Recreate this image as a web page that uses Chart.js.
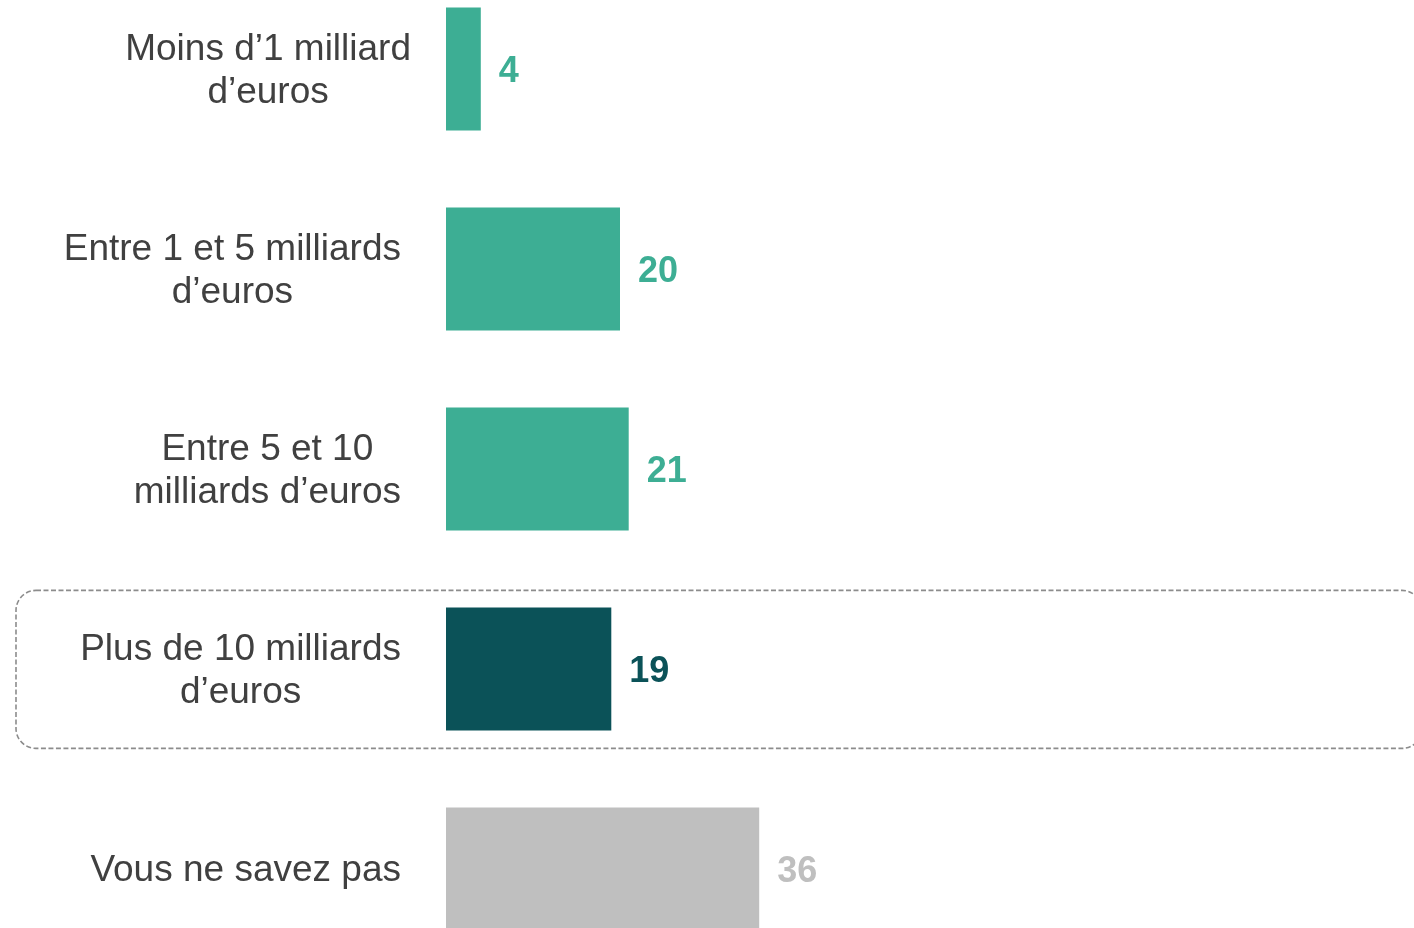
<!DOCTYPE html>
<html>
<head>
<meta charset="utf-8">
<script src="https://cdn.jsdelivr.net/npm/chart.js@4.4.1/dist/chart.umd.min.js"></script>
<style>
  html, body { margin: 0; padding: 0; background: #ffffff; overflow: hidden; }
  #wrap { position: absolute; left: 0; top: -31px; width: 1414px; height: 1000px; }
</style>
</head>
<body>
<div id="wrap"><canvas id="c"></canvas></div>
<script>
const categories = [
  ["Moins d\u20191 milliard", "d\u2019euros"],
  ["Entre 1 et 5 milliards", "d\u2019euros"],
  ["Entre 5 et 10", "milliards d\u2019euros"],
  ["Plus de 10 milliards", "d\u2019euros"],
  ["Vous ne savez pas"]
];
const values = [4, 20, 21, 19, 36];
const barColors = ["#3DAE94", "#3DAE94", "#3DAE94", "#0B5258", "#BFBFBF"];
const highlightIndex = 3;

const FONT = "'Liberation Sans', Arial, Helvetica, sans-serif";

const labelPlugin = {
  id: 'sideLabels',
  afterDraw(chart) {
    const ctx = chart.ctx;
    const yScale = chart.scales.y;
    const band = Math.abs(yScale.getPixelForValue(1) - yScale.getPixelForValue(0));
    // highlight box
    const cy = yScale.getPixelForValue(highlightIndex);
    const top = cy - band * 0.393, bottom = cy + band * 0.397;
    const left = 16, right = 1422, r = 20;
    ctx.save();
    ctx.strokeStyle = '#8C8C8C';
    ctx.lineWidth = 1.6;
    ctx.setLineDash([5, 2.5]);
    ctx.beginPath();
    ctx.roundRect(left, top, right - left, bottom - top, r);
    ctx.stroke();
    ctx.restore();

    // category labels
    ctx.save();
    ctx.font = "37px " + FONT;
    ctx.fillStyle = '#404040';
    ctx.textAlign = 'center';
    ctx.textBaseline = 'middle';
    const lineH = 43;
    const rightEdges = [411, 401, 401, 401, 401];
    categories.forEach((lines, i) => {
      const y = yScale.getPixelForValue(i) + 2;
      const widest = Math.max(...lines.map(l => ctx.measureText(l).width));
      const cx = rightEdges[i] - widest / 2;
      lines.forEach((l, k) => {
        const ly = y + (k - (lines.length - 1) / 2) * lineH;
        ctx.fillText(l, cx, ly);
      });
    });
    ctx.restore();

    // value labels
    ctx.save();
    ctx.font = "bold 36px " + FONT;
    ctx.textAlign = 'left';
    ctx.textBaseline = 'middle';
    const meta = chart.getDatasetMeta(0);
    meta.data.forEach((bar, i) => {
      ctx.fillStyle = barColors[i];
      ctx.fillText(String(values[i]), bar.x + 18, bar.y + 3);
    });
    ctx.restore();
  }
};

new Chart(document.getElementById('c'), {
  type: 'bar',
  data: {
    labels: categories,
    datasets: [{
      data: values,
      backgroundColor: barColors,
      borderWidth: 0,
      barPercentage: 0.615,
      categoryPercentage: 1
    }]
  },
  options: {
    indexAxis: 'y',
    responsive: true,
    maintainAspectRatio: false,
    animation: false,
    layout: { padding: { left: 446, right: 98, top: 0, bottom: 0 } },
    plugins: { legend: { display: false }, tooltip: { enabled: false } },
    scales: {
      x: { display: false, min: 0, max: 100 },
      y: { display: false }
    }
  },
  plugins: [labelPlugin]
});
</script>
</body>
</html>
